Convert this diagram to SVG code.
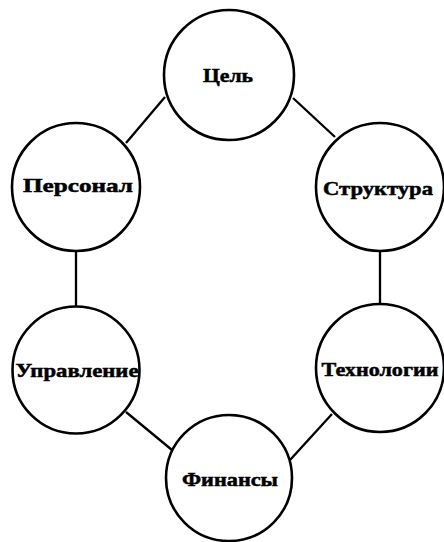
<svg xmlns="http://www.w3.org/2000/svg" width="444" height="542" viewBox="0 0 444 542">
<style>
.n{fill:#fff;stroke:#000;stroke-width:2.6}
.c{stroke:#000;stroke-width:2.3;fill:none}
.t{font-family:"Liberation Serif","Times New Roman",serif;font-weight:bold;font-size:19px;fill:#000;stroke:#000;stroke-width:0.5;text-anchor:middle}
</style>
<rect width="444" height="542" fill="#fff"/>
<g id="connectors">
<line class="c" x1="126" y1="143" x2="165" y2="97"/>
<line class="c" x1="293" y1="98" x2="335" y2="137"/>
<line class="c" x1="76" y1="251" x2="76" y2="306"/>
<line class="c" x1="380" y1="251" x2="380" y2="304"/>
<line class="c" x1="126" y1="412" x2="172" y2="450"/>
<line class="c" x1="290" y1="460" x2="332" y2="414"/>
</g>
<g id="node-cel"><circle class="n" cx="229" cy="75" r="65"/><text class="t" x="228" y="82" textLength="50" lengthAdjust="spacingAndGlyphs">Цель</text></g>
<g id="node-struktura"><circle class="n" cx="380" cy="187" r="64"/><text class="t" x="378" y="195" textLength="110" lengthAdjust="spacingAndGlyphs">Структура</text></g>
<g id="node-personal"><circle class="n" cx="76" cy="187" r="64"/><text class="t" x="78" y="192" textLength="110" lengthAdjust="spacingAndGlyphs">Персонал</text></g>
<g id="node-upravlenie"><circle class="n" cx="76" cy="370" r="63.5"/><text class="t" x="77" y="377" textLength="123" lengthAdjust="spacingAndGlyphs">Управление</text></g>
<g id="node-tehnologii"><circle class="n" cx="380" cy="368" r="64"/><text class="t" x="380" y="376" textLength="117" lengthAdjust="spacingAndGlyphs">Технологии</text></g>
<g id="node-finansy"><circle class="n" cx="229" cy="478" r="63"/><text class="t" x="230" y="486" textLength="96" lengthAdjust="spacingAndGlyphs">Финансы</text></g>
</svg>
